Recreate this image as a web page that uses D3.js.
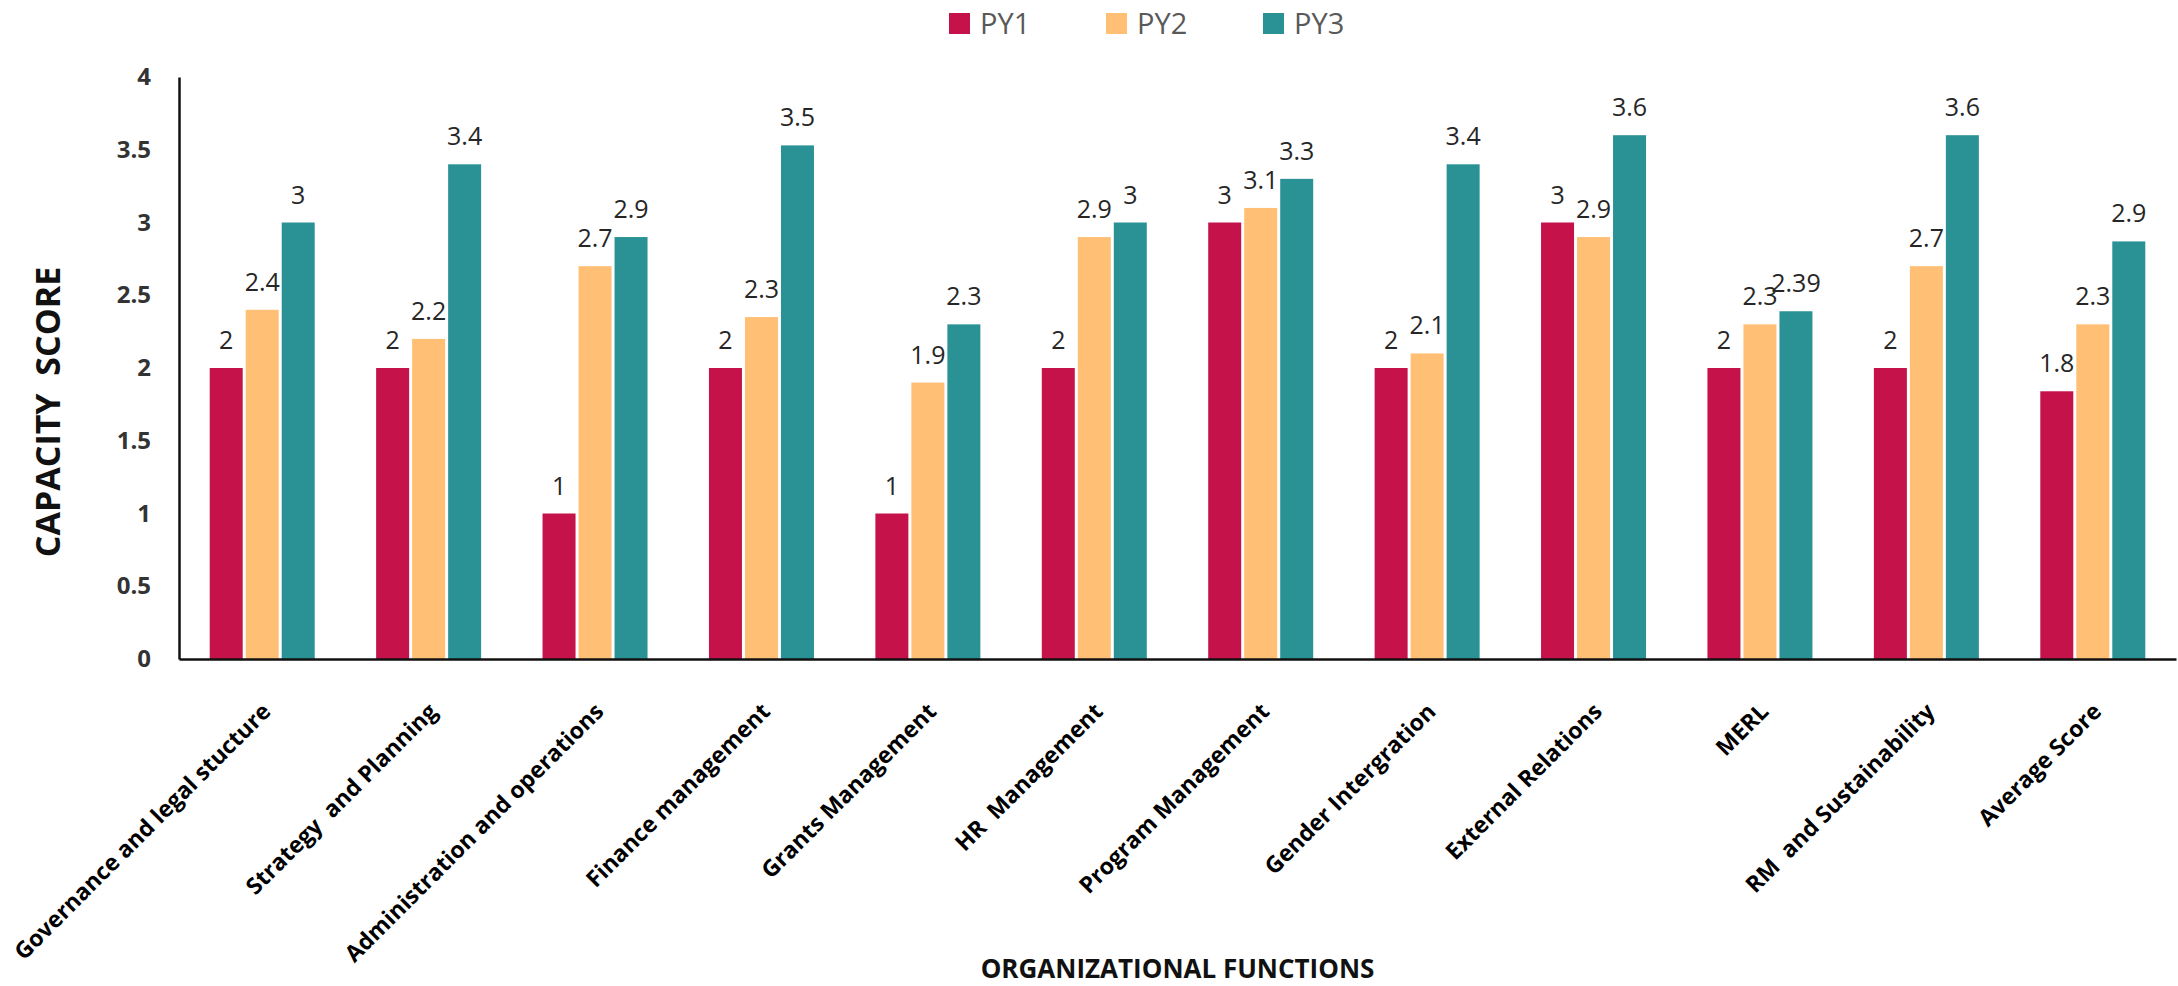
<!DOCTYPE html>
<html>
<head>
<meta charset="utf-8">
<script src="https://cdn.jsdelivr.net/npm/d3@7"></script>
<style>
  body { margin: 0; background: #fff; }
  text { font-family: "Open Sans", "Noto Sans", sans-serif; white-space: pre; }
</style>
</head>
<body>
<svg id="chart" width="2178" height="986"></svg>
<script>
// chart data
var categories = ["Governance and legal stucture", "Strategy  and Planning", "Administration and operations",
  "Finance management", "Grants Management", "HR  Management", "Program Management",
  "Gender Intergration", "External Relations", "MERL", "RM  and Sustainability", "Average Score"]
var series = ["PY1", "PY2", "PY3"]
var py1 = [2, 2, 1, 2, 1, 2, 3, 2, 3, 2, 2, 1.84]
var py2 = [2.4, 2.2, 2.7, 2.35, 1.9, 2.9, 3.1, 2.1, 2.9, 2.3, 2.7, 2.3]
var py3 = [3, 3.4, 2.9, 3.53, 2.3, 3, 3.3, 3.4, 3.6, 2.39, 3.6, 2.87]
var py1Labels = ["2", "2", "1", "2", "1", "2", "3", "2", "3", "2", "2", "1.8"]
var py2Labels = ["2.4", "2.2", "2.7", "2.3", "1.9", "2.9", "3.1", "2.1", "2.9", "2.3", "2.7", "2.3"]
var py3Labels = ["3", "3.4", "2.9", "3.5", "2.3", "3", "3.3", "3.4", "3.6", "2.39", "3.6", "2.9"]
var yTicks = [0, 0.5, 1, 1.5, 2, 2.5, 3, 3.5, 4]
var colors = ["#C5124B", "#FFBF75", "#2A9295"]

var values = [py1, py2, py3]
var labels = [py1Labels, py2Labels, py3Labels]

var svg = d3.select("#chart")
var plotLeft = 179, plotRight = 2176, plotTop = 77, plotBottom = 659

var x0 = d3.scaleBand().domain(categories).range([plotLeft, plotRight]).padding(0)
var x1 = d3.scaleBand().domain(series).range([-54, 54]).paddingInner(1 / 12).paddingOuter(1 / 24)
var y = d3.scaleLinear().domain([0, 4]).range([plotBottom, plotTop])

// bars
var groups = svg.selectAll("g.group")
  .data(categories)
  .enter().append("g")
  .attr("class", "group")
  .attr("transform", function(d) { return "translate(" + (x0(d) + x0.bandwidth() / 2) + ",0)" })

groups.each(function(cat, i) {
  var g = d3.select(this)
  var rows = series.map(function(s, k) { return {s: s, k: k, v: values[k][i], lab: labels[k][i]} })
  g.selectAll("rect")
    .data(rows)
    .enter().append("rect")
    .attr("x", function(d) { return x1(d.s) })
    .attr("width", x1.bandwidth())
    .attr("y", function(d) { return y(d.v) })
    .attr("height", function(d) { return y(0) - y(d.v) })
    .attr("fill", function(d) { return colors[d.k] })
  g.selectAll("text.val")
    .data(rows)
    .enter().append("text")
    .attr("class", "val")
    .attr("x", function(d) { return x1(d.s) + x1.bandwidth() / 2 })
    .attr("y", function(d) { return y(d.v) - 19 })
    .attr("text-anchor", "middle")
    .attr("font-size", 25)
    .attr("fill", "#262626")
    .text(function(d) { return d.lab })
})

// axes
var yAxis = svg.append("g")
  .attr("transform", "translate(" + plotLeft + ",0)")
  .call(d3.axisLeft(y).tickValues(yTicks).tickSize(0).tickPadding(28).tickFormat(function(d) { return d }))
yAxis.select(".domain").attr("stroke", "#111").attr("stroke-width", 2.5)
yAxis.selectAll("text")
  .attr("font-family", "Open Sans")
  .attr("font-size", 24)
  .attr("font-weight", "bold")
  .attr("fill", "#333")

var xAxis = svg.append("g")
  .attr("transform", "translate(0," + plotBottom + ")")
  .call(d3.axisBottom(x0).tickSize(0).tickFormat(""))
xAxis.select(".domain").attr("stroke", "#111").attr("stroke-width", 2.5)

// rotated category labels
svg.selectAll("text.cat")
  .data(categories)
  .enter().append("text")
  .attr("class", "cat")
  .attr("text-anchor", "end")
  .attr("font-size", 23)
  .attr("font-weight", "bold")
  .attr("fill", "#000")
  .attr("transform", function(d) {
    return "translate(" + (x0(d) + x0.bandwidth() / 2 + 10) + "," + (plotBottom + 54) + ") rotate(-45)"
  })
  .text(function(d) { return d })

// axis titles
svg.append("text")
  .attr("transform", "translate(60,412) rotate(-90)")
  .attr("text-anchor", "middle")
  .attr("font-size", 34)
  .attr("font-weight", "bold")
  .attr("fill", "#111")
  .text("CAPACITY  SCORE")

svg.append("text")
  .attr("x", (plotLeft + plotRight) / 2)
  .attr("y", 978)
  .attr("text-anchor", "middle")
  .attr("font-size", 26)
  .attr("font-weight", "bold")
  .attr("fill", "#111")
  .text("ORGANIZATIONAL FUNCTIONS")

// legend
var legend = svg.selectAll("g.legend")
  .data(series)
  .enter().append("g")
  .attr("class", "legend")
  .attr("transform", function(d, i) { return "translate(" + (949 + i * 157) + ",13)" })
legend.append("rect")
  .attr("width", 21).attr("height", 21)
  .attr("fill", function(d, i) { return colors[i] })
legend.append("text")
  .attr("x", 31).attr("y", 21)
  .attr("font-size", 29)
  .attr("fill", "#595959")
  .text(function(d) { return d })
</script>
</body>
</html>
